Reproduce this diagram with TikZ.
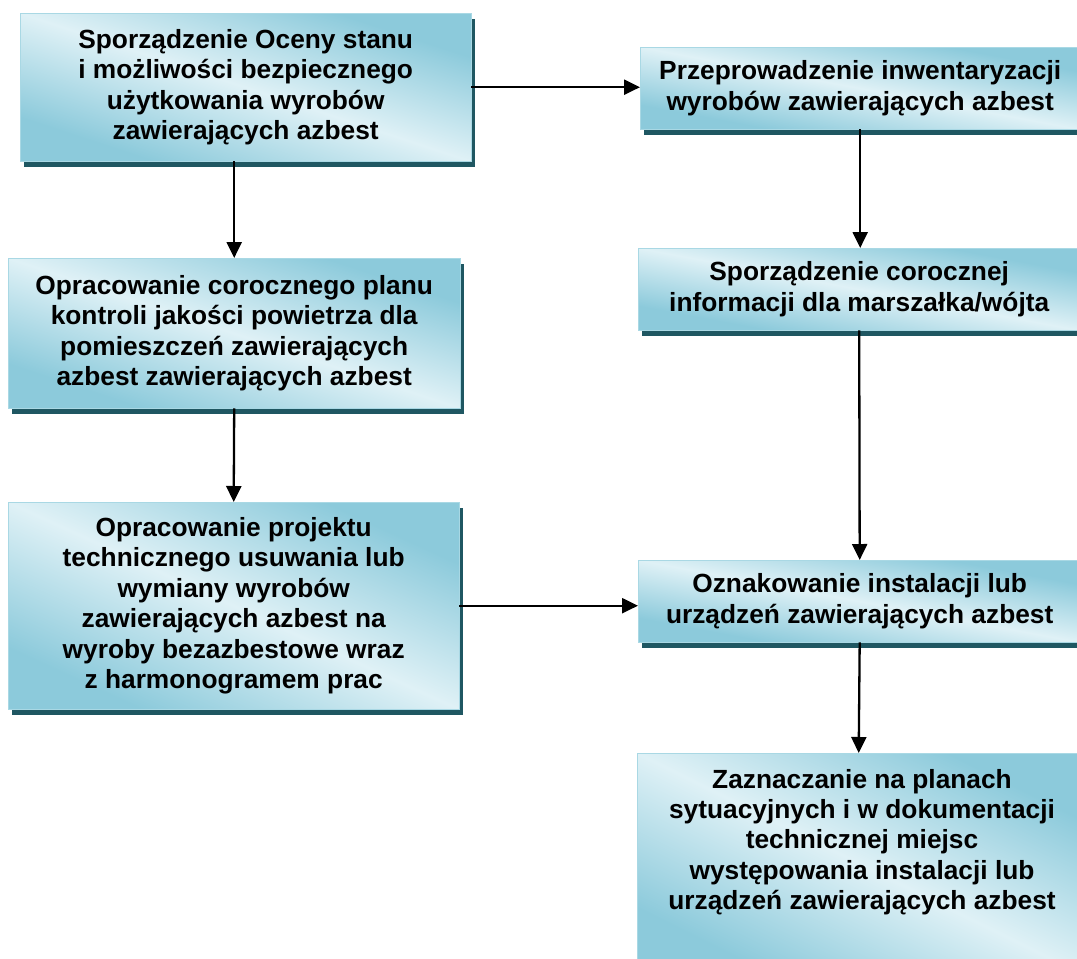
\documentclass[tikz,border=0pt]{standalone}
\usepackage{fontspec}
\setmainfont{Liberation Sans}
\usetikzlibrary{arrows.meta,backgrounds}
\definecolor{lightc}{HTML}{DFF1F6}
\definecolor{darkc}{HTML}{8CCADB}
\definecolor{shadowc}{HTML}{1F5762}
\definecolor{edgec}{HTML}{A9D8E4}
\pgfdeclarehorizontalshading{reflblue}{100bp}{color(0bp)=(darkc); color(25bp)=(darkc); color(50bp)=(lightc); color(75bp)=(darkc); color(100bp)=(darkc)}
\tikzset{
  box/.style={rectangle, draw=none, fill=none,
    font=\bfseries\fontsize{26.3}{30.4}\selectfont, align=center, inner sep=0pt, anchor=north west},
  boxtext/.style={font=\bfseries\fontsize{26.3}{30.4}\selectfont, align=center, inner sep=0pt},
  boxshadow/.style={fill=shadowc},
  boxedge/.style={draw=edgec, line width=0.8pt},
  arr/.style={line width=2.3pt, -{Triangle[length=16pt,width=15pt]}}
}
\newcommand\gradbox[1]{%
  \path (#1.south west); \pgfgetlastxy{\gbxa}{\gbya}%
  \path (#1.north east); \pgfgetlastxy{\gbxb}{\gbyb}%
  \pgfmathsetmacro\gbw{(\gbxb-\gbxa)/100}%
  \pgfmathsetmacro\gbh{(\gbyb-\gbya)/100}%
  \fill[boxshadow] ([shift={(3.5pt,-5.5pt)}]#1.south west) rectangle ([shift={(3.5pt,-5.5pt)}]#1.north east);
  \shade[shading=reflblue, shading angle=45, transform canvas={shift={(#1.center)}, xscale=\gbw, yscale=\gbh}] (-50pt,-50pt) rectangle (50pt,50pt);
  \path[boxedge] (#1.south west) rectangle (#1.north east);
}
\begin{document}
\begin{tikzpicture}[x=1pt,y=-1pt]
\useasboundingbox (0,0) rectangle (1077,959);
\clip (0,0) rectangle (1077,959);
\node[box, minimum width=451pt, minimum height=148pt] (b1) at (20,13)
  {Sporządzenie Oceny stanu\\i możliwości bezpiecznego\\użytkowania wyrobów\\zawierających azbest};
\node[box, minimum width=440pt, minimum height=82pt] (b2) at (640,47)
  {Przeprowadzenie inwentaryzacji\\wyrobów zawierających azbest};
\node[box, minimum width=452pt, minimum height=150pt] (b3) at (8,258)
  {Opracowanie corocznego planu\\kontroli jakości powietrza dla\\pomieszczeń zawierających\\azbest zawierających azbest};
\node[box, minimum width=442pt, minimum height=82pt] (b4) at (638,248)
  {Sporządzenie corocznej\\informacji dla marszałka/wójta};
\node[box, minimum width=451pt, minimum height=207pt] (b5) at (8,502)
  {Opracowanie projektu\\technicznego usuwania lub\\wymiany wyrobów\\zawierających azbest na\\wyroby bezazbestowe wraz\\z harmonogramem prac};
\node[box, minimum width=443pt, minimum height=82pt] (b6) at (638,560)
  {Oznakowanie instalacji lub\\urządzeń zawierających azbest};
\node[box, minimum width=443pt, minimum height=220pt] (b7) at (637,753) {};
\node[boxtext] (t7) at (862,842)
  {Zaznaczanie na planach\\sytuacyjnych i w dokumentacji\\technicznej miejsc\\występowania instalacji lub\\urządzeń zawierających azbest};
\begin{scope}[on background layer]
\gradbox{b1}\gradbox{b2}\gradbox{b3}\gradbox{b4}\gradbox{b5}\gradbox{b6}\gradbox{b7}
\end{scope}
\draw[arr] (b1.east) -- (b1.east -| b2.west);
\draw[arr] (b3.north |- b1.south) -- (b3.north);
\draw[arr] (b3.south) -- (b5.north);
\draw[arr] (b2.south) -- (b2.south |- b4.north);
\draw[arr] (b4.south) -- (b6.north);
\draw[arr] (b5.east) -- (b5.east -| b6.west);
\draw[arr] (b6.south) -- (b7.north);
\end{tikzpicture}
\end{document}
